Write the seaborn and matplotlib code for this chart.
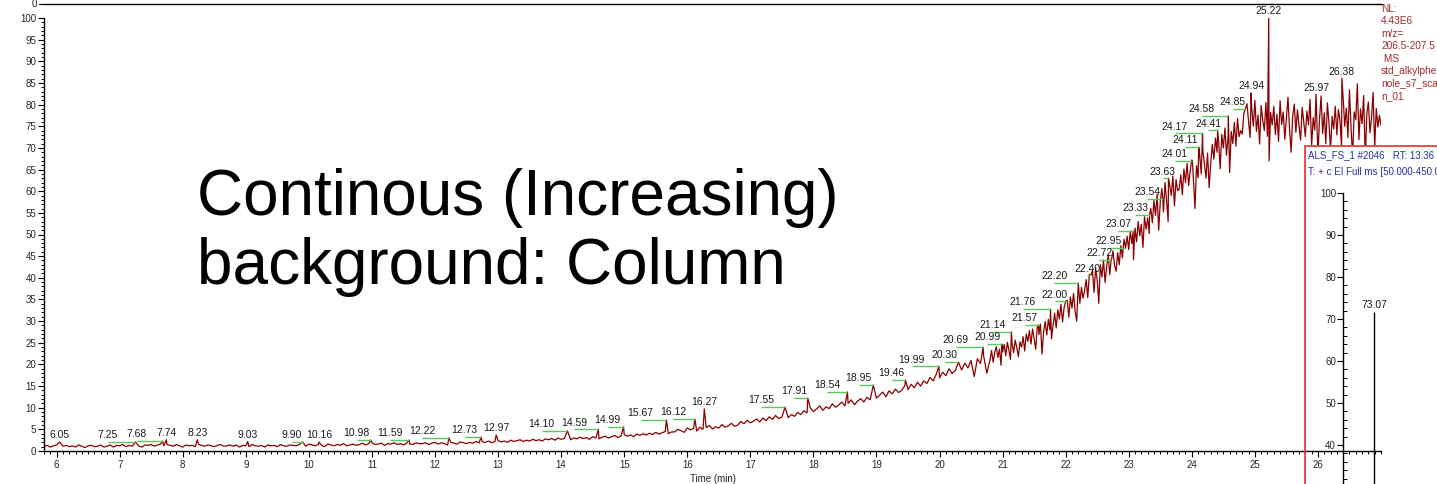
import numpy as np
import pandas as pd
import matplotlib
matplotlib.use("Agg")
import matplotlib.pyplot as plt
import seaborn as sns
from matplotlib.patches import Rectangle
from matplotlib.lines import Line2D
from matplotlib.ticker import MultipleLocator, FixedLocator

# ---------------- data ----------------
# chromatogram intensity (relative abundance, %)
# coarse part: every 0.05 min from 5.80 to 20.75 min
coarse_start = 5.80
coarse_step = 0.05
intensity_coarse = [
    # 5.80 - 6.75
    1.0, 1.3, 0.9, 1.2, 1.4, 0.8, 1.1, 1.3, 1.0, 1.2, 0.9, 1.4, 1.1, 0.8, 1.2, 1.3, 1.0, 1.1, 1.4, 0.9,
    # 6.80 - 7.75
    1.1, 1.4, 0.9, 1.3, 1.2, 1.5, 1.0, 1.3, 1.1, 1.6, 1.2, 0.9, 1.4, 1.3, 1.5, 1.1, 1.4, 1.6, 1.2, 1.5,
    # 7.80 - 8.75
    1.3, 1.1, 1.5, 1.2, 0.9, 1.4, 1.2, 1.3, 1.0, 1.5, 1.3, 1.1, 1.4, 1.2, 1.0, 1.3, 1.5, 1.1, 1.2, 1.4,
    # 8.80 - 9.75
    1.1, 1.4, 0.9, 1.3, 1.2, 1.0, 1.5, 1.2, 1.1, 1.3, 0.9, 1.4, 1.2, 1.3, 1.0, 1.5, 1.2, 1.1, 1.4, 1.3,
    # 9.80 - 10.75
    1.2, 1.5, 1.3, 1.1, 1.6, 1.4, 1.2, 1.5, 1.3, 1.0, 1.6, 1.4, 1.2, 1.5, 1.3, 1.7, 1.2, 1.4, 1.6, 1.3,
    # 10.80 - 11.75
    1.5, 1.8, 1.4, 1.7, 1.9, 1.5, 1.6, 1.8, 1.3, 1.7, 1.6, 1.9, 1.5, 1.7, 1.4, 1.8, 1.6, 1.5, 1.9, 1.7,
    # 11.80 - 12.75
    1.7, 1.9, 1.5, 1.8, 2.0, 1.6, 1.9, 1.7, 1.4, 2.0, 1.8, 1.6, 2.1, 1.9, 1.7, 2.0, 1.8, 2.2, 1.9, 2.1,
    # 12.80 - 13.75
    2.0, 2.3, 1.9, 2.2, 2.4, 2.1, 2.3, 2.0, 2.5, 2.2, 2.4, 2.6, 2.2, 2.5, 2.3, 2.7, 2.4, 2.6, 2.3, 2.8,
    # 13.80 - 14.75
    2.6, 2.9, 2.5, 3.0, 2.7, 2.9, 3.1, 2.6, 3.0, 2.8, 3.2, 2.9, 3.1, 2.7, 3.3, 3.0, 2.8, 3.2, 3.4, 3.0,
    # 14.80 - 15.75
    3.3, 3.6, 3.1, 3.5, 3.8, 3.4, 3.7, 3.3, 3.9, 3.6, 4.0, 3.7, 4.1, 3.8, 4.3, 3.9, 4.2, 4.5, 4.0, 4.4,
    # 15.80 - 16.75
    4.4, 5.0, 4.7, 4.3, 5.3, 4.9, 5.2, 4.6, 5.5, 5.0, 5.4, 5.9, 5.1, 5.6, 5.3, 6.1, 5.5, 5.8, 6.4, 5.7,
    # 16.80 - 17.75
    6.0, 6.8, 6.3, 7.1, 6.5, 6.9, 7.4, 6.7, 7.6, 7.0, 7.9, 7.3, 8.2, 7.5, 7.8, 8.6, 7.7, 8.4, 8.0, 8.9,
    # 17.80 - 18.75
    8.4, 9.3, 8.8, 10.0, 9.1, 9.7, 10.4, 9.4, 10.2, 9.8, 10.9, 10.1, 10.6, 11.3, 10.4, 11.0, 11.8, 10.7, 11.5, 12.1,
    # 18.80 - 19.75
    11.3, 12.4, 11.8, 13.0, 12.2, 12.9, 13.6, 12.5, 13.9, 13.2, 14.3, 13.5, 14.0, 15.1, 14.2, 15.4, 14.6, 15.9, 15.0, 16.2,
    # 19.80 - 20.75
    15.6, 17.0, 16.2, 17.8, 16.9, 18.2, 17.4, 19.0, 17.9, 18.6, 19.8, 18.7, 20.3, 19.2, 20.9, 17.2, 21.3, 20.2, 21.9, 18.0,
]
# fine part: every 0.025 min from 20.800 to 27.000 min
fine_start = 20.80
fine_step = 0.025
intensity_fine = [
    # 20.800 - 21.275
    21.0, 23.2, 20.5, 22.8, 24.1, 21.6, 23.5, 19.8, 22.9, 24.6, 22.0, 25.1, 23.3, 21.2, 24.8, 22.7, 25.6, 23.9, 21.8, 25.2,
    # 21.300 - 21.775
    24.0, 26.4, 23.1, 27.0, 25.3, 27.8, 24.7, 28.2, 26.0, 23.5, 28.6, 26.9, 29.3, 22.4, 27.5, 29.9, 26.8, 30.4, 28.0, 25.9,
    # 21.800 - 22.275
    29.0, 31.8, 28.4, 32.6, 30.5, 33.9, 29.8, 33.1, 31.6, 34.8, 30.9, 35.6, 33.0, 36.4, 32.2, 30.0, 36.9, 34.1, 37.8, 35.3,
    # 22.300 - 22.775
    37.0, 39.6, 35.4, 40.8, 38.2, 41.7, 36.6, 42.3, 39.5, 34.1, 43.0, 40.2, 44.1, 38.9, 42.6, 45.3, 40.7, 44.0, 46.2, 42.9,
    # 22.800 - 23.275
    41.5, 45.8, 43.0, 47.4, 44.6, 48.9, 42.8, 49.6, 46.5, 50.8, 47.9, 44.2, 51.5, 48.3, 53.0, 49.7, 52.4, 47.0, 54.1, 51.2,
    # 23.300 - 23.775
    53.8, 50.2, 56.0, 52.7, 57.9, 54.4, 59.3, 51.0, 57.5, 60.6, 55.2, 62.0, 57.8, 53.0, 61.4, 59.0, 63.5, 56.6, 62.7, 60.1,
    # 23.800 - 24.275
    60.5, 63.8, 59.2, 65.1, 62.0, 66.4, 61.3, 64.7, 67.2, 62.8, 56.0, 65.9, 63.1, 68.4, 64.0, 69.5, 66.2, 63.0, 68.8, 60.8,
    # 24.300 - 24.775
    66.5, 70.8, 67.4, 72.3, 69.0, 71.6, 65.2, 73.1, 70.0, 74.6, 68.3, 72.5, 64.3, 73.8, 71.0, 75.9, 70.4, 76.8, 72.6, 74.0,
    # 24.800 - 25.275
    73.2, 78.0, 74.5, 80.2, 76.1, 72.4, 79.3, 75.0, 81.0, 73.8, 77.6, 70.9, 79.8, 76.4, 74.0, 80.5, 72.7, 67.0, 78.2, 75.3,
    # 25.300 - 25.775
    79.6, 73.1, 77.8, 71.5, 80.9, 75.4, 78.3, 72.0, 76.9, 81.7, 74.2, 69.0, 77.5, 80.1, 73.6, 78.8, 75.1, 71.8, 79.4, 76.0,
    # 25.800 - 26.275
    72.6, 78.5, 75.3, 81.2, 70.4, 77.0, 74.1, 79.9, 68.2, 76.6, 82.0, 73.3, 78.1, 71.0, 80.4, 75.8, 69.5, 77.3, 74.4, 79.6,
    # 26.300 - 26.775
    73.0, 78.9, 76.2, 70.1, 81.5, 75.0, 79.2, 72.4, 83.4, 74.7, 68.0, 78.3, 76.5, 84.8, 71.9, 79.0, 75.6, 82.1, 67.5, 77.8,
    # 26.800 - 27.000
    80.6, 73.5, 77.0, 82.8, 70.2, 79.1, 74.8, 77.5, 75.2,
]

# labelled peaks: retention time (min), apex height (%), start of the label leader line (min, nan = none)
peak_rt = [6.05, 7.25, 7.68, 7.74, 8.23, 9.03, 9.90, 10.16, 10.98, 11.59,
           12.22, 12.73, 12.97, 14.10, 14.59, 14.99, 15.67, 16.12, 16.27, 17.55,
           17.91, 18.54, 18.95, 19.46, 19.99, 20.30, 20.69, 20.99, 21.14, 21.57,
           21.76, 22.00, 22.20, 22.40, 22.72, 22.95, 23.07, 23.33, 23.54, 23.63,
           24.01, 24.11, 24.17, 24.41, 24.58, 24.85, 24.94, 25.22, 25.97, 26.38]
peak_apex = [2.08, 2.08, 2.3, 2.6, 2.6, 2.2, 2.1, 2.08, 2.54, 2.54,
             3.05, 3.23, 3.7, 4.66, 5.0, 5.6, 7.16, 7.39, 9.7, 10.16,
             12.24, 13.63, 15.24, 16.4, 19.6, 20.55, 24.0, 24.7, 27.5, 29.1,
             32.8, 34.6, 38.8, 40.6, 44.1, 46.9, 50.8, 54.5, 58.2, 63.0,
             67.0, 70.2, 73.4, 74.1, 77.4, 79.0, 82.7, 100.0, 82.4, 86.1]
nan = float("nan")
leader_start = [nan, 6.81, 7.27, nan, nan, nan, 9.73, nan, 10.76, 11.28,
                11.80, 12.47, nan, 13.69, 14.21, 14.74, 15.26, 15.78, nan, 17.17,
                17.69, 18.22, 18.72, 19.24, 19.56, 20.08, 20.26, 20.76, 20.84, 21.35,
                21.32, 21.83, 21.82, 22.34, 22.53, 22.68, 22.83, 23.10, 23.29, 23.54,
                23.73, 23.89, 23.73, 24.26, 24.16, 24.65, nan, nan, nan, nan]

# axis tick values
time_ticks = [6, 7, 8, 9, 10, 11, 12, 13, 14, 15, 16, 17, 18, 19, 20, 21, 22, 23, 24, 25, 26]

# inset mass spectrum
spec_mz = [73.07]
spec_int = [71.7]
spec_ticks = [40, 50, 60, 70, 80, 90, 100]

header_lines = ["NL:", "4.43E6", "m/z=", "206.5-207.5", " MS", "std_alkylphe", "nole_s7_sca", "n_01"]
scan_lines = ["ALS_FS_1 #2046   RT: 13.36", "T: + c EI Full ms [50.000-450.00"]
title_lines = ["Continous (Increasing)", "background: Column"]

# ---------------- assemble trace ----------------
coarse_t = np.round(coarse_start + coarse_step * np.arange(len(intensity_coarse)), 3)
fine_t = np.round(fine_start + fine_step * np.arange(len(intensity_fine)), 3)
grid_t = np.concatenate([coarse_t, fine_t])
grid_v = np.array(intensity_coarse + intensity_fine)
prt = np.array(peak_rt)
keep = np.array([np.min(np.abs(prt - t)) > 0.004 for t in grid_t])
all_t = np.concatenate([grid_t[keep], prt])
all_v = np.concatenate([grid_v[keep], np.array(peak_apex)])
order = np.argsort(all_t, kind="stable")
df = pd.DataFrame({"Time (min)": all_t[order], "Rel": all_v[order]})

# ---------------- figure ----------------
sns.set_style("ticks")
plt.rcParams["font.family"] = ["Liberation Sans", "DejaVu Sans"]

W, H = 1437, 484
fig = plt.figure(figsize=(W / 100, H / 100), dpi=100)


def fx(px):
    return px / W


def fy(py):
    return 1 - py / H


ax = fig.add_axes([fx(44), fy(451), (1381 - 44) / W, (451 - 18) / H])
sns.lineplot(data=df, x="Time (min)", y="Rel", ax=ax, color="#8b0000",
             linewidth=0.9, estimator=None, sort=False, zorder=2)
ax.set_xlim(5.8, 27.0)
ax.set_ylim(0, 100)
ax.set_ylabel("")
ax.set_xlabel("Time (min)", fontsize=7, labelpad=3)
for s in ["top", "right"]:
    ax.spines[s].set_visible(False)
for s in ["left", "bottom"]:
    ax.spines[s].set_linewidth(1.0)
    ax.spines[s].set_color("black")
ax.yaxis.set_major_locator(MultipleLocator(5))
ax.yaxis.set_minor_locator(MultipleLocator(1))
ax.xaxis.set_major_locator(FixedLocator(time_ticks))
ax.xaxis.set_minor_locator(MultipleLocator(0.1))
ax.tick_params(axis="both", which="major", length=4, width=0.8, labelsize=7, pad=1.5, color="black")
ax.tick_params(axis="both", which="minor", length=2, width=0.7, color="black")
ax.tick_params(axis="x", which="major", pad=2.5)
ax.xaxis.set_zorder(2.6)
ax.yaxis.set_zorder(2.6)
ax.grid(False)

# peak labels with their green leader lines
for rt, ap, ls in zip(peak_rt, peak_apex, leader_start):
    lx = rt
    if not np.isnan(ls):
        ax.plot([ls, rt], [ap, ap], color="#5cc85c", linewidth=1.0, zorder=2.1, solid_capstyle="butt")
        lx = ls
    ax.annotate(f"{rt:.2f}", xy=(lx, ap), xytext=(0, 2.6), textcoords="offset points",
                ha="center", va="baseline", fontsize=7.5, color="#1a1a1a", zorder=3)

# white cover for the inset box region (keeps main axis on top)
ax.add_patch(Rectangle((fx(1305), 0), 1 - fx(1305), fy(146), transform=fig.transFigure,
                       facecolor="white", edgecolor="none", zorder=2.2, clip_on=False))

# big annotation text
fig.text(fx(197), fy(168), "\n".join(title_lines), ha="left", va="top",
         fontsize=46, color="black", linespacing=1.2)

# header text (top right)
fig.text(fx(1381), fy(4), "\n".join(header_lines), ha="left", va="top",
         fontsize=7.3, color="#a3292b", linespacing=1.3)

# remnant of the panel above
fig.add_artist(Line2D([fx(44), fx(1382)], [fy(4), fy(4)], color="black", lw=1.0, transform=fig.transFigure))
fig.add_artist(Line2D([fx(39), fx(44)], [fy(4), fy(4)], color="black", lw=0.8, transform=fig.transFigure))
fig.text(fx(37), fy(4), "0", ha="right", va="center", fontsize=7, color="#222222")

# inset: spectrum panel
ax2 = fig.add_axes([fx(1343), fy(613), (1500 - 1343) / W, (613 - 193) / H])
ax2.patch.set_alpha(0)
ax2.vlines(spec_mz, 0, spec_int, color="black", linewidth=1.0)
for mz, it in zip(spec_mz, spec_int):
    ax2.annotate(f"{mz:.2f}", xy=(mz, it), xytext=(0, 2.6), textcoords="offset points",
                 ha="center", va="baseline", fontsize=7.5, color="#1a1a1a")
ax2.set_xlim(50, 50 + (1500 - 1343) * (23.07 / 31))
ax2.set_ylim(0, 100)
for s in ["top", "right", "bottom"]:
    ax2.spines[s].set_visible(False)
ax2.spines["left"].set_linewidth(1.0)
ax2.spines["left"].set_color("black")
ax2.set_xticks([])
ax2.set_yticks(spec_ticks)
ax2.yaxis.set_minor_locator(MultipleLocator(2))
ax2.tick_params(axis="y", which="major", length=4, width=0.8, labelsize=7, pad=1, color="black")
ax2.tick_params(axis="y", which="minor", length=3, width=0.7, direction="in", color="black")
ax2.grid(False)

# red frame of the inset
fig.add_artist(Rectangle((fx(1305), fy(600)), fx(1600) - fx(1305), fy(146) - fy(600),
                         transform=fig.transFigure, facecolor="none", edgecolor="#ee3b3b",
                         linewidth=1.3, zorder=5))
fig.text(fx(1308), fy(155), scan_lines[0], ha="left", va="center", fontsize=7, color="#2d2db4")
fig.text(fx(1308), fy(172), scan_lines[1], ha="left", va="center", fontsize=7, color="#2d2db4")

fig.savefig("out.png", dpi=100)
